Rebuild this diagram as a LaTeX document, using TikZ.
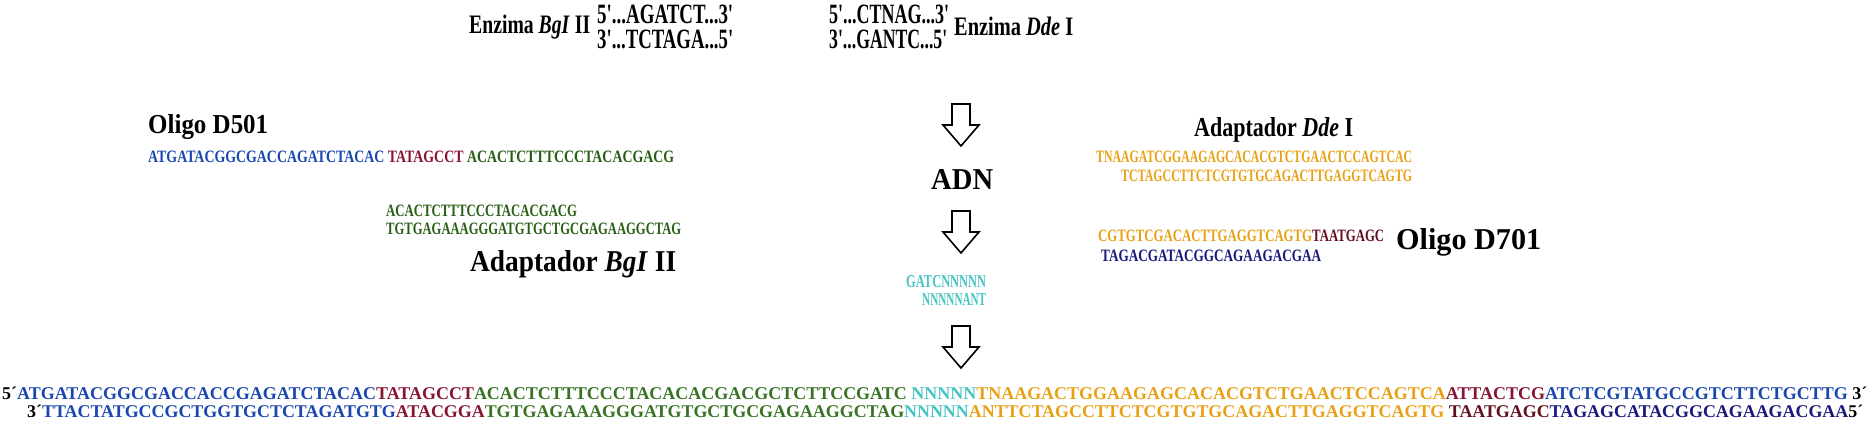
\documentclass[tikz,border=0pt]{standalone}
\usepackage{fontspec}
\setmainfont{Liberation Serif}
\usepackage{graphicx}
\definecolor{sblue}{RGB}{25,70,175}
\definecolor{sred}{RGB}{135,20,50}
\definecolor{sgreen}{RGB}{40,95,20}
\definecolor{sgreenb}{RGB}{55,115,35}
\definecolor{sorange}{RGB}{232,160,20}
\definecolor{scyan}{RGB}{70,195,195}
\definecolor{snavy}{RGB}{25,25,125}
\definecolor{smaroon}{RGB}{100,15,30}
\newcommand\rz[2]{\resizebox{#1pt}{!}{#2}}
\newcommand\rzh[3]{\resizebox{#1pt}{#2pt}{#3}}
\newcommand\qs{\textquotesingle}
\tikzset{
  seq/.style={inner sep=0pt, anchor=west, font=\bfseries},
  lab/.style={inner sep=0pt, anchor=base west, font=\bfseries},
  blockarrow/.style={draw=black, fill=white, line width=1.6pt, line join=miter},
}
\begin{document}
\begin{tikzpicture}[x=1pt,y=-1pt]
\useasboundingbox (0,0) rectangle (1876,436);
% top enzymes
\node[lab] (enzB) at (469,34) {\rzh{121}{18.5}{Enzima \textit{BgI} II}};
\node[lab] (bgl1) at (597,24) {\rzh{136}{18.5}{5\qs...AGATCT...3\qs}};
\node[lab] (bgl2) at (597,49) {\rzh{136}{18.5}{3\qs...TCTAGA...5\qs}};
\node[lab] (dde1) at (829,24) {\rzh{120}{18.5}{5\qs...CTNAG...3\qs}};
\node[lab] (dde2) at (829,49) {\rzh{118}{18.5}{3\qs...GANTC...5\qs}};
\node[lab] (enzD) at (954,35) {\rzh{119}{18.5}{Enzima \textit{Dde} I}};
% left block
\node[lab] (oligo5) at (148,133.5) {\rzh{120}{19}{Oligo D501}};
\node[seq] (row5) at (148,157) {\rzh{526}{11.5}{\textcolor{sblue}{ATGATACGGCGACCAGATCTACAC} \textcolor{sred}{TATAGCCT} \textcolor{sgreen}{ACACTCTTTCCCTACACGACG}}};
\node[seq] (bglA1) at (386,211) {\rzh{191}{11.5}{\textcolor{sgreen}{ACACTCTTTCCCTACACGACG}}};
\node[seq] (bglA2) at (386,229) {\rzh{295}{11.5}{\textcolor{sgreen}{TGTGAGAAAGGGATGTGCTGCGAGAAGGCTAG}}};
\node[lab] (adBgl) at (470,271.5) {\rzh{206}{21}{Adaptador \textit{BgI} II}};
% centre
\node[lab] (adn) at (931,189) {\rzh{62}{20}{ADN}};
\node[seq] (cy1) at (906,282) {\rzh{80}{12}{\textcolor{scyan}{GATCNNNNN}}};
\node[seq] (cy2) at (922,299) {\rzh{64}{12}{\textcolor{scyan}{NNNNNANT}}};
% right block
\node[lab] (adDde) at (1194,136.5) {\rzh{159}{19}{Adaptador \textit{Dde} I}};
\node[seq] (ddeA1) at (1096,157) {\rzh{316}{11.5}{\textcolor{sorange}{TNAAGATCGGAAGAGCACACGTCTGAACTCCAGTCAC}}};
\node[seq] (ddeA2) at (1121,176) {\rzh{291}{11.5}{\textcolor{sorange}{TCTAGCCTTCTCGTGTGCAGACTTGAGGTCAGTG}}};
\node[seq] (row7) at (1098,236) {\rzh{286}{11.5}{\textcolor{sorange}{CGTGTCGACACTTGAGGTCAGTG}\textcolor{smaroon}{TAATGAGC}}};
\node[lab] (oligo7) at (1396,249.5) {\rzh{145}{21}{Oligo D701}};
\node[seq] (navy7) at (1101,256) {\rzh{220}{11.5}{\textcolor{snavy}{TAGACGATACGGCAGAAGACGAA}}};
% block arrows
\foreach \t [count=\i] in {104,211,326}{
  \draw[blockarrow] (952,\t) -- (970,\t) -- (970,\t+21) -- (979,\t+21) -- (961,\t+42)
     -- (943,\t+21) -- (952,\t+21) -- cycle;
}
% final construct
\node[seq] (fin1) at (2,393) {\rz{1865}{5´\textcolor{sblue}{ATGATACGGCGACCACCGAGATCTACAC}\textcolor{sred}{TATAGCCT}\textcolor{sgreenb}{ACACTCTTTCCCTACACACGACGCTCTTCCGATC} \textcolor{scyan}{NNNNN}\textcolor{sorange}{TNAAGACTGGAAGAGCACACGTCTGAACTCCAGTCA}\textcolor{sred}{ATTACTCG}\textcolor{sblue}{ATCTCGTATGCCGTCTTCTGCTTG} 3´}};
\node[seq] (fin2) at (27,411) {\rz{1836}{3´\textcolor{sblue}{TTACTATGCCGCTGGTGCTCTAGATGTG}\textcolor{sred}{ATACGGA}\textcolor{sgreenb}{TGTGAGAAAGGGATGTGCTGCGAGAAGGCTAG}\textcolor{scyan}{NNNNN}\textcolor{sorange}{ANTTCTAGCCTTCTCGTGTGCAGACTTGAGGTCAGTG} \textcolor{smaroon}{TAATGAGC}\textcolor{snavy}{TAGAGCATACGGCAGAAGACGAA}5´}};
\end{tikzpicture}
\end{document}
